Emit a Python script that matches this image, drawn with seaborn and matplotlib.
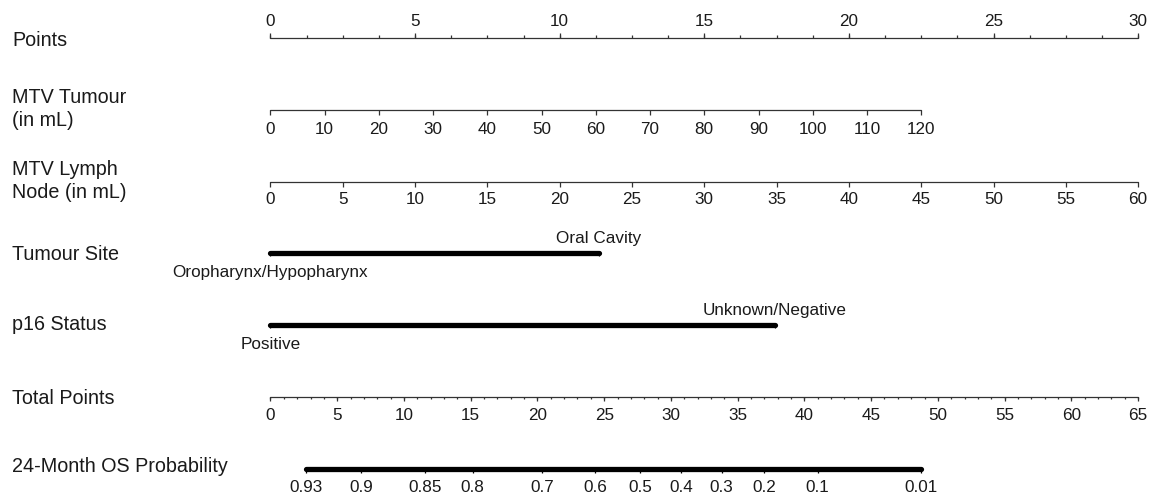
import matplotlib
matplotlib.use("Agg")
import matplotlib.pyplot as plt
import numpy as np
import pandas as pd
import seaborn as sns

# ---- nomogram data ----
points_ticks = [0, 5, 10, 15, 20, 25, 30]
points_minor_step = 1.25

mtv_tumour_ml = [0, 10, 20, 30, 40, 50, 60, 70, 80, 90, 100, 110, 120]
mtv_tumour_pts_at_max = 22.5      # points given to 120 mL

mtv_node_ml = [0, 5, 10, 15, 20, 25, 30, 35, 40, 45, 50, 55, 60]
mtv_node_pts_at_max = 30.0        # points given to 60 mL

site_levels = ["Oropharynx/Hypopharynx", "Oral Cavity"]
site_points = [0.0, 11.36]

p16_levels = ["Positive", "Unknown/Negative"]
p16_points = [0.0, 17.44]

total_ticks = [0, 5, 10, 15, 20, 25, 30, 35, 40, 45, 50, 55, 60, 65]
total_max = 65

prob_labels = ["0.93", "0.9", "0.85", "0.8", "0.7", "0.6", "0.5",
               "0.4", "0.3", "0.2", "0.1", "0.01"]
prob_total_points = [2.64, 6.77, 11.61, 15.14, 20.35, 24.30, 27.67,
                     30.74, 33.79, 36.96, 40.99, 48.70]

# ---- layout ----
W, H = 1151, 495
X0 = 270.5          # pixel x of 0 points
PX_PER_POINT = 28.92
TICK_FS = 12.3
ROW_FS = 14.2

sns.set_theme(style="white")
plt.rcParams["font.family"] = ["Liberation Sans", "DejaVu Sans"]

fig = plt.figure(figsize=(W / 100, H / 100), dpi=100)
ax = fig.add_axes([0, 0, 1, 1])
ax.set_xlim(-X0 / PX_PER_POINT, (W - X0) / PX_PER_POINT)
ax.set_ylim(H, 0)
ax.axis("off")

LW = 0.9
TS = 3.2
TXT = "#1a1a1a"


def row_label(y, text):
    ax.text(12 / W, y, text, transform=ax.get_yaxis_transform(),
            ha="left", va="center", fontsize=ROW_FS, color=TXT,
            linespacing=1.25)


def scale_row(y, pos, labels, up=False, minor=None, label_gap=17, major=4.5, minor_len=3.0):
    sign = -1 if up else 1
    ax.plot([pos[0], pos[-1]], [y, y], color="#333333", lw=LW)
    ax.vlines(pos, y, y + sign * major, color="#333333", lw=LW)
    if minor is not None:
        ax.vlines(minor, y, y + sign * minor_len, color="#333333", lw=LW)
    for p, lab in zip(pos, labels):
        ax.text(p, y + sign * label_gap, lab, ha="center", va="center",
                fontsize=TICK_FS, color=TXT)


# Points
y_pts = 37.5
row_label(40, "Points")
minor_pts = np.arange(0, points_ticks[-1] + 1e-9, points_minor_step)
scale_row(y_pts, points_ticks, [str(v) for v in points_ticks], up=True,
          minor=minor_pts, label_gap=16.5, major=5, minor_len=3)

# MTV Tumour
y_tum = 110
row_label(109, "MTV Tumour\n(in mL)")
tum_pos = [v / mtv_tumour_ml[-1] * mtv_tumour_pts_at_max for v in mtv_tumour_ml]
scale_row(y_tum, tum_pos, [str(v) for v in mtv_tumour_ml], label_gap=19)

# MTV Lymph Node
y_node = 182
row_label(181, "MTV Lymph\nNode (in mL)")
node_pos = [v / mtv_node_ml[-1] * mtv_node_pts_at_max for v in mtv_node_ml]
scale_row(y_node, node_pos, [str(v) for v in mtv_node_ml], label_gap=17.5)


def category_row(y, pts, levels):
    df = pd.DataFrame({"x": pts, "y": [y] * len(pts)})
    sns.lineplot(data=df, x="x", y="y", ax=ax, color="black", lw=3.8,
                 legend=False, solid_capstyle="round")
    ax.vlines(pts, y, y + TS, color="black", lw=LW)
    ax.text(pts[0], y + 20, levels[0], ha="center", va="center",
            fontsize=TICK_FS, color=TXT)
    ax.text(pts[1], y - 14.5, levels[1], ha="center", va="center",
            fontsize=TICK_FS, color=TXT)


y_site = 252.5
row_label(255, "Tumour Site")
category_row(y_site, site_points, site_levels)

y_p16 = 324.5
row_label(325, "p16 Status")
category_row(y_p16, p16_points, p16_levels)

# Total Points
y_tot = 396.5
row_label(398, "Total Points")
scale_tot = points_ticks[-1] / total_max
tot_pos = [v * scale_tot for v in total_ticks]
minor_tot = np.arange(0, total_max + 1e-9, 1) * scale_tot
scale_row(y_tot, tot_pos, [str(v) for v in total_ticks], minor=minor_tot,
          label_gap=18.5, major=4.5, minor_len=2.5)

# 24-Month OS Probability
y_prob = 468.5
row_label(467, "24-Month OS Probability")
prob_pos = [v * scale_tot for v in prob_total_points]
prob_df = pd.DataFrame({"x": prob_pos, "y": [y_prob] * len(prob_pos)})
sns.lineplot(data=prob_df, x="x", y="y", ax=ax, color="black", lw=3.8,
             legend=False, solid_capstyle="round")
ax.vlines(prob_pos, y_prob, y_prob + 4, color="black", lw=LW)
for p, lab in zip(prob_pos, prob_labels):
    ax.text(p, y_prob + 18.5, lab, ha="center", va="center",
            fontsize=TICK_FS, color=TXT)

ax.set_xlabel("")
ax.set_ylabel("")
fig.savefig("out.png", dpi=100, facecolor="white")
